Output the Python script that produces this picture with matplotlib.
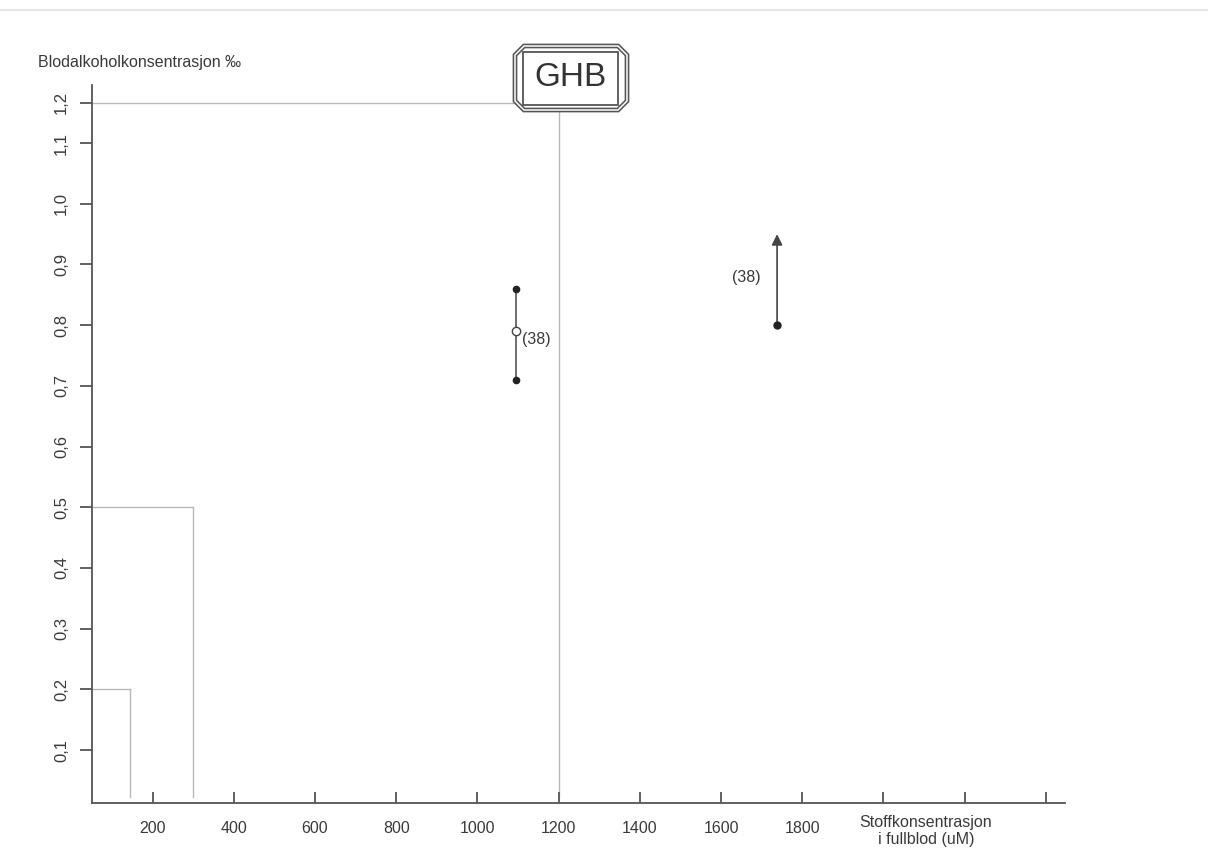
import numpy as np
import matplotlib
matplotlib.use("Agg")
import matplotlib.pyplot as plt
from matplotlib.ticker import FixedLocator, FixedFormatter
from matplotlib.patches import Polygon, Rectangle

# ---------------- data ----------------
limit_bac = [0.2, 0.5, 1.2]            # blood alcohol levels (promille)
limit_conc = [145, 300, 1200]          # matching GHB concentration (uM)
range_x = 1095
range_low, range_mid, range_high = 0.71, 0.79, 0.86
arrow_x = 1738
arrow_start, arrow_end = 0.80, 0.95
ref_label = "(38)"
x_ticks = [200, 400, 600, 800, 1000, 1200, 1400, 1600, 1800, 2000, 2200, 2400]
x_ticklabels = ["200", "400", "600", "800", "1000", "1200", "1400", "1600", "1800", "", "", ""]
y_ticks = [0.1, 0.2, 0.3, 0.4, 0.5, 0.6, 0.7, 0.8, 0.9, 1.0, 1.1, 1.2]
y_ticklabels = ["0,1", "0,2", "0,3", "0,4", "0,5", "0,6", "0,7", "0,8", "0,9", "1,0", "1,1", "1,2"]

plt.rcParams['font.family'] = ['Liberation Sans', 'DejaVu Sans']

W, H = 1208, 850
fig = plt.figure(figsize=(W / 100, H / 100), dpi=100)
fig.patch.set_facecolor('white')

ax = fig.add_axes([92 / W, 1 - 803 / H, (1065 - 92) / W, (803 - 85) / H])

# compressed top part of the y axis (as drawn in the original)
K = 0.665
def fwd(v):
    v = np.asarray(v, dtype=float)
    return np.where(v <= 1.1, v, 1.1 + (v - 1.1) * K)

def inv(u):
    u = np.asarray(u, dtype=float)
    return np.where(u <= 1.1, u, 1.1 + (u - 1.1) / K)

ax.set_yscale('function', functions=(fwd, inv))
ax.set_xlim(51, 2447)
ax.set_ylim(0.0127, 1.244)

axis_col = '#555555'
txt_col = '#3a3a3a'
for s in ['top', 'right']:
    ax.spines[s].set_visible(False)
for s in ['left', 'bottom']:
    ax.spines[s].set_color(axis_col)
    ax.spines[s].set_linewidth(1.3)

ax.xaxis.set_major_locator(FixedLocator(x_ticks))
ax.xaxis.set_major_formatter(FixedFormatter(x_ticklabels))
ax.yaxis.set_major_locator(FixedLocator(y_ticks))
ax.yaxis.set_major_formatter(FixedFormatter(y_ticklabels))
ax.yaxis.set_minor_locator(FixedLocator([]))
ax.tick_params(axis='x', direction='in', length=8, width=1.3, color=axis_col,
               pad=13, labelsize=11.5, labelcolor=txt_col)
ax.tick_params(axis='y', direction='out', length=8.5, width=1.3, color=axis_col,
               pad=8, labelsize=12, labelcolor=txt_col)
for lab in ax.get_yticklabels():
    lab.set_rotation(90)
    lab.set_va('center')
    lab.set_ha('right')

# threshold reference lines
line_col = '#b8b8b8'
for b, c in zip(limit_bac, limit_conc):
    ax.plot([51, c], [b, b], color=line_col, lw=1.0, zorder=1)
    ax.plot([c, c], [0.022, b], color=line_col, lw=1.0, zorder=1)

# range with mean
ax.plot([range_x, range_x], [range_low, range_high], color='#555555', lw=1.2, zorder=2)
ax.plot([range_x, range_x], [range_low, range_high], 'o', color='#222222', ms=4.5, zorder=3)
ax.plot([range_x], [range_mid], 'o', mfc='white', mec='#444444', ms=6, mew=1.0, zorder=4)
ax.annotate(ref_label, (range_x, range_mid), xytext=(4, -6), textcoords='offset points',
            fontsize=11.5, color=txt_col, va='center', ha='left')

# arrow: lower bound
ax.annotate('', xy=(arrow_x, arrow_end), xytext=(arrow_x, arrow_start),
            arrowprops=dict(arrowstyle='-|>', color='#444444', lw=1.2,
                            mutation_scale=16, shrinkA=0, shrinkB=0), zorder=3)
ax.plot([arrow_x], [arrow_start], 'o', color='#222222', ms=5, zorder=4)
ax.annotate(ref_label, (arrow_x, arrow_start), xytext=(-12, 34), textcoords='offset points',
            fontsize=11.5, color=txt_col, va='center', ha='right')

# axis titles
fig.text(38 / W, 1 - 63 / H, 'Blodalkoholkonsentrasjon ‰', fontsize=11.5,
         color=txt_col, ha='left', va='center')
fig.text(926 / W, 1 - 831 / H, 'Stoffkonsentrasjon\ni fullblod (uM)', fontsize=11.5,
         color=txt_col, ha='center', va='center', linespacing=1.15)

# GHB title frame
def px(x, y):
    return (x / W, 1 - y / H)

def frame(x0, y0, x1, y1, c):
    return [px(x0 + c, y0), px(x1 - c, y0), px(x1, y0 + c), px(x1, y1 - c),
            px(x1 - c, y1), px(x0 + c, y1), px(x0, y1 - c), px(x0, y0 + c)]

outer = Polygon(frame(515, 46, 627, 110, 9), closed=True, transform=fig.transFigure,
                facecolor='white', edgecolor='#555555', lw=3.4, zorder=10)
outer_w = Polygon(frame(515, 46, 627, 110, 9), closed=True, transform=fig.transFigure,
                  facecolor='none', edgecolor='white', lw=1.1, zorder=11)
inner = Rectangle(px(523, 105), (618 - 523) / W, (105 - 52) / H,
                  transform=fig.transFigure, facecolor='none',
                  edgecolor='#555555', lw=1.3, zorder=12)
fig.patches.extend([outer, outer_w, inner])
fig.text(571 / W, 1 - 78 / H, 'GHB', fontsize=24, color='#333333',
         ha='center', va='center', zorder=13)

# faint scan line on top
fig.add_artist(plt.Line2D([0, 1], [1 - 10 / H, 1 - 10 / H], transform=fig.transFigure,
                          color='#e6e6e6', lw=1.5))

fig.savefig('out.png', dpi=100, facecolor='white')
